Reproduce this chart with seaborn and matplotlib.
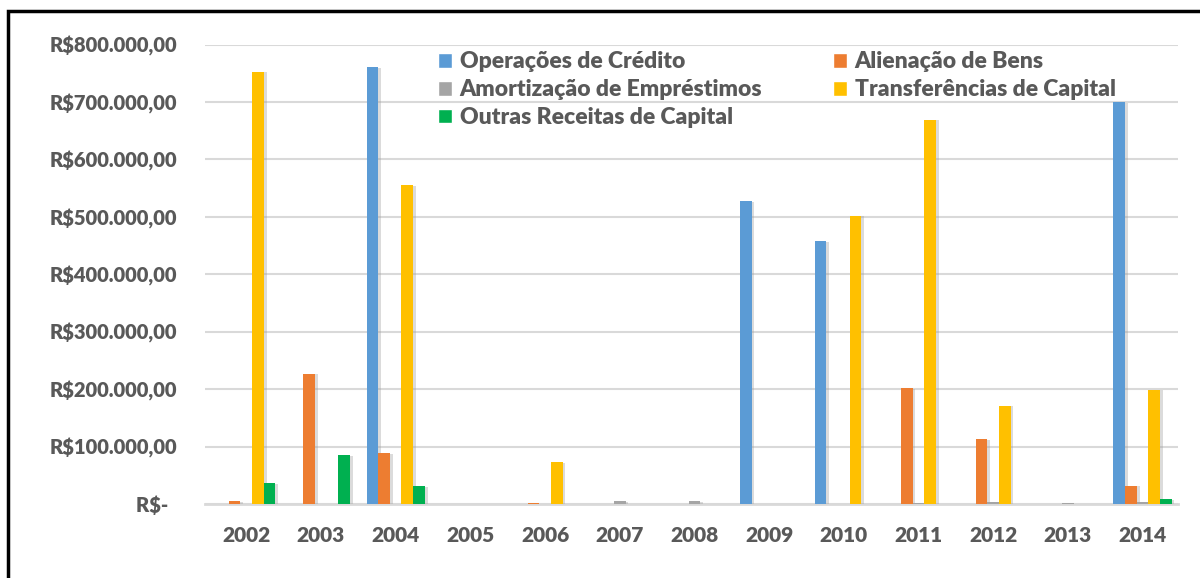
import matplotlib
matplotlib.use("Agg")
import matplotlib.pyplot as plt
import matplotlib.patheffects as pe
from matplotlib.patches import Rectangle, Patch
import seaborn as sns
import pandas as pd

anos = ["2002", "2003", "2004", "2005", "2006", "2007", "2008",
        "2009", "2010", "2011", "2012", "2013", "2014"]
categorias = ["Operações de Crédito", "Alienação de Bens",
              "Amortização de Empréstimos", "Transferências de Capital",
              "Outras Receitas de Capital"]
operacoes_credito = [0, 0, 760000, 0, 0, 0, 0, 527000, 458000, 0, 0, 0, 700000]
alienacao_bens = [5000, 227000, 88000, 0, 2000, 0, 0, 0, 0, 202000, 113000, 0, 32000]
amortizacao = [0, 0, 0, 0, 0, 5000, 5000, 0, 0, 2000, 4000, 2000, 4000]
transferencias = [753000, 0, 555000, 0, 73000, 0, 0, 0, 502000, 669000, 171000, 0, 199000]
outras = [36000, 85000, 31000, 0, 0, 0, 0, 0, 0, 0, 0, 0, 8000]
cores = ["#5B9BD5", "#ED7D31", "#A5A5A5", "#FFC000", "#00B050"]
yticks = [0, 100000, 200000, 300000, 400000, 500000, 600000, 700000, 800000]
ytick_labels = ["R$-  ", "R$100.000,00", "R$200.000,00", "R$300.000,00",
                "R$400.000,00", "R$500.000,00", "R$600.000,00",
                "R$700.000,00", "R$800.000,00"]

series = [operacoes_credito, alienacao_bens, amortizacao, transferencias, outras]
rows = []
for cat, vals in zip(categorias, series):
    for ano, v in zip(anos, vals):
        rows.append({"Ano": ano, "Valor": v, "Categoria": cat})
df = pd.DataFrame(rows)

sns.set_theme(style="white")
plt.rcParams["font.family"] = ["Lato", "DejaVu Sans"]
txt = "#595959"

fig = plt.figure(figsize=(12, 5.78), dpi=100)
ax = fig.add_axes([0.171, 0.128, 0.811, 0.795])

sns.barplot(data=df, x="Ano", y="Valor", hue="Categoria", hue_order=categorias,
            order=anos, palette=cores, width=0.78, errorbar=None, ax=ax,
            saturation=1, legend=False, zorder=3, linewidth=0)
for p in ax.patches:
    p.set_linewidth(0)
    if p.get_height() > 0:
        p.set_path_effects([pe.SimplePatchShadow(offset=(2.0, -0.5),
                                                 shadow_rgbFace="#9A9A9A", alpha=0.35),
                            pe.Normal()])

ax.set_ylim(0, 800000)
ax.set_xlim(-0.55, 12.48)
ax.set_yticks(yticks)
ax.set_yticklabels(ytick_labels)
ax.set_xlabel("")
ax.set_ylabel("")
ax.yaxis.grid(True, color="#D9D9D9", linewidth=1.5, zorder=0)
ax.set_axisbelow(True)
for s in ["top", "right", "left"]:
    ax.spines[s].set_visible(False)
ax.spines["bottom"].set_color("#D9D9D9")
ax.spines["bottom"].set_linewidth(2)
ax.tick_params(axis="y", length=0, pad=20, labelsize=14.5, labelcolor=txt)
ax.tick_params(axis="x", length=0, pad=16, labelsize=15, labelcolor=txt)
for lab in ax.get_xticklabels() + ax.get_yticklabels():
    lab.set_fontweight("heavy")

handles = [Patch(facecolor=c, label=l) for c, l in zip(cores, categorias)]
order = [0, 2, 4, 1, 3]
leg = ax.legend([handles[i] for i in order], [categorias[i] for i in order],
                ncol=2, loc="upper left", bbox_to_anchor=(0.365, 0.911),
                bbox_transform=fig.transFigure, frameon=False,
                prop={"size": 16.5, "weight": "heavy"}, handlelength=0.6,
                handleheight=0.6, handletextpad=0.35, columnspacing=3.08,
                labelspacing=0.3, borderaxespad=0, borderpad=0)
for t in leg.get_texts():
    t.set_color(txt)

# outer chart border
fig.patches.append(Rectangle((8 / 1200, -0.05), 1.1, 1 - 11 / 578 + 0.05,
                             transform=fig.transFigure, fill=False,
                             edgecolor="black", linewidth=2.5, clip_on=False))

fig.savefig("out.png", dpi=100, facecolor="white")
